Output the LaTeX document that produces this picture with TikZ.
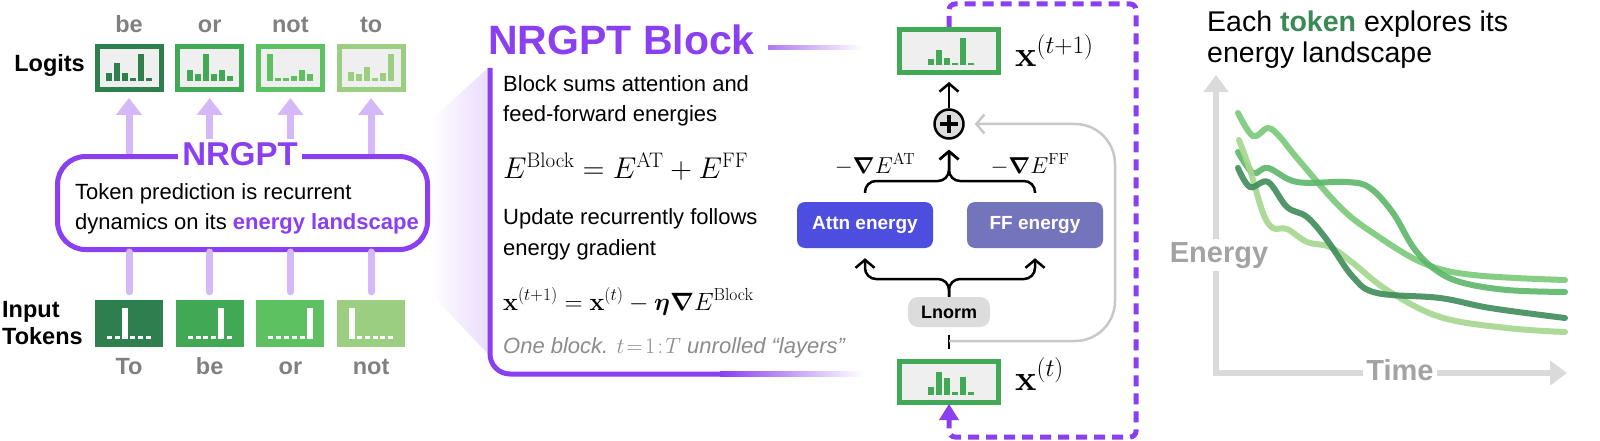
\RequirePackage{fix-cm}
\documentclass[tikz,border=0pt]{standalone}
\usepackage{amsmath,bm}
\usepackage[no-math]{fontspec}
\setmainfont{Liberation Sans}
\usetikzlibrary{arrows.meta,calc}
\definecolor{np}{HTML}{8A3FF0}
\definecolor{lp}{HTML}{D5B8F8}
\definecolor{g1}{HTML}{2F7F4E}
\definecolor{g2}{HTML}{41A956}
\definecolor{g3}{HTML}{5EC161}
\definecolor{g4}{HTML}{9BCE80}
\definecolor{boxgray}{HTML}{EFEFEF}
\definecolor{lblc}{HTML}{808080}
\definecolor{attnc}{HTML}{4D4DE0}
\definecolor{ffc}{HTML}{7474BD}
\definecolor{lng}{HTML}{DCDCDC}
\definecolor{axg}{HTML}{DADADA}
\definecolor{axt}{HTML}{A3A3A3}
\definecolor{tokg}{HTML}{3A8A55}
\definecolor{resg}{HTML}{C8C8C8}
\definecolor{itg}{HTML}{8C8C8C}
\definecolor{cA}{HTML}{79C979}
\definecolor{cB}{HTML}{5CB66A}
\definecolor{cC}{HTML}{3F8C5A}
\definecolor{cD}{HTML}{A6D78E}
\begin{document}
\begin{tikzpicture}[x=1pt,y=-1pt,
  lbl/.style={font=\fontsize{23.5}{28}\selectfont\bfseries, inner sep=0},
  tok/.style={lbl, text=lblc, anchor=base},
  body/.style={font=\fontsize{22}{26}\selectfont, inner sep=0, anchor=base west},
  logitbox/.style={draw, line width=5pt, fill=boxgray, minimum width=64pt, minimum height=43pt, inner sep=0},
  tokbox/.style={minimum width=68pt, minimum height=47pt, inner sep=0},
  uparrow/.style={lp, line width=7pt, -{Triangle[width=25pt,length=17pt]}, shorten >=6pt},
  conn/.style={lp, line width=7pt, line cap=round, shorten >=8pt},
  chev/.style={line width=2.5pt, -{Straight Barb[length=8pt,width=19pt]}},
  mathlbl/.style={inner sep=0, anchor=base west, font=\fontsize{36}{42}\selectfont},
  ebox/.style={rounded corners=8pt, minimum width=136pt, minimum height=46pt, text=white, font=\fontsize{19}{22}\selectfont\bfseries, inner sep=0},
  curve/.style={line width=6pt, line cap=round, opacity=0.9}
]
\useasboundingbox (0,0) rectangle (1600,441);
\fill[white] (0,0) rectangle (1600,441);

% ---------- left part ----------
\shade[left color=white, right color=np!18] (430,121) -- (488,68) -- (488,354) -- (430,293) -- cycle;
\node[draw=np, fill=white, line width=5pt, rounded corners=28pt, minimum width=370pt, minimum height=93pt] (nrg) at (242.5,203) {};

\foreach \n/\c/\x in {L1/g1/129, L2/g2/209.7, L3/g3/290.4, L4/g4/371.1}{
  \node[logitbox, draw=\c] (\n) at (\x,68) {};
}
\foreach \n/\c/\x in {I1/g1/129, I2/g2/209.7, I3/g3/290.4, I4/g4/371.1}{
  \node[tokbox, fill=\c] (\n) at (\x,323.5) {};
}
\foreach \n/\c/\hs in {L1/g1/{8,18,8,3,27,3}, L2/g2/{11,7,27,7,11,5}, L3/g3/{27,3,3,5,11,7}, L4/g4/{9,7,14,3,8,27}}{
  \foreach \h [count=\i] in \hs {
    \fill[\c] ($(\n.center)+({(\i-3.5)*8-3},13)$) rectangle ++(6,-\h);
  }
}
\foreach \n/\k in {I1/3,I2/5,I3/6,I4/1}{
  \foreach \i in {1,...,6}{
    \ifnum\i=\k\relax
      \fill[white] ($(\n.center)+({(\i-3.5)*7.8-3},15.5)$) rectangle ++(6,-31);
    \else
      \fill[white] ($(\n.center)+({(\i-3.5)*7.8-2.5},15.5)$) rectangle ++(5,-3);
    \fi
  }
}
\foreach \n in {L1,L2,L3,L4}{
  \draw[uparrow] (nrg.north -| \n) -- (\n.south);
}
\foreach \n in {I1,I2,I3,I4}{
  \draw[conn] (nrg.south -| \n) -- (\n.north);
}
\node[font=\fontsize{33}{38}\selectfont\bfseries, text=np, fill=white, inner sep=4pt] (nrgt) at (240,154.5) {NRGPT};
\node[body] (t1) at (75,199) {Token prediction is recurrent};
\node[body] (t2) at (75,229) {dynamics on its \textcolor{np}{\textbf{energy landscape}}};

\node[tok] (w1) at (129,33) {be};
\node[tok] (w2) at (209.7,33) {or};
\node[tok] (w3) at (290.4,33) {not};
\node[tok] (w4) at (371.1,33) {to};
\node[tok] (v1) at (129,374) {To};
\node[tok] (v2) at (209.7,374) {be};
\node[tok] (v3) at (290.4,374) {or};
\node[tok] (v4) at (371.1,374) {not};
\node[lbl, anchor=base east] (logl) at (85,72) {Logits};
\node[lbl, anchor=base west] (inl) at (2,317) {Input};
\node[lbl, anchor=base west] (tkl) at (2,344) {Tokens};

% ---------- middle text ----------
\node[inner sep=0, anchor=base west, font=\fontsize{41}{46}\selectfont\bfseries, text=np] (blt) at (488,55) {NRGPT Block};
\shade[left color=np!70, right color=white] (768,46) rectangle (863,50);
\draw[np, line width=5pt, rounded corners=20pt] (490,68) -- (490,374) -- (722,374);
\shade[left color=np, right color=white] (720,371.5) rectangle (863,376.5);
\node[body] (b1) at (503,92) {Block sums attention and};
\node[body] (b2) at (503,122) {feed-forward energies};
\node[inner sep=0, anchor=base west, font=\fontsize{30}{34}\selectfont] (eq1) at (503,178) {$E^{\mathrm{Block}}=E^{\mathrm{AT}}+E^{\mathrm{FF}}$};
\node[body] (b3) at (503,224) {Update recurrently follows};
\node[body] (b4) at (503,255) {energy gradient};
\node[inner sep=0, anchor=base west, font=\fontsize{25}{30}\selectfont] (eq2) at (503,310) {$\mathbf{x}^{(t+1)}=\mathbf{x}^{(t)}-\bm{\eta}\bm{\nabla}E^{\mathrm{Block}}$};
\node[body, text=itg] (b5) at (503,353) {\textit{One block.} ${t\!=\!1\!:\!T}$ \textit{unrolled “layers”}};

% ---------- middle diagram ----------
\node[draw=g2, line width=5pt, fill=boxgray, minimum width=99pt, minimum height=43pt, inner sep=0] (xt1) at (949,51) {};
\node[draw=g2, line width=5pt, fill=boxgray, minimum width=99pt, minimum height=41pt, inner sep=0] (xt) at (949,382) {};
\foreach \h [count=\i] in {6,15,7,2,27,2}{
  \fill[g2] ($(xt1.center)+({(\i-3.5)*8.1-1},14)$) rectangle ++(6,-\h);
}
\foreach \h [count=\i] in {8,23,17,3,18,3}{
  \fill[g2] ($(xt.center)+({(\i-3.5)*8.1-1},13)$) rectangle ++(6,-\h);
}
\node[mathlbl] (xl1) at (1015,67) {$\mathbf{x}^{(t+1)}$};
\node[mathlbl] (xl0) at (1015,390) {$\mathbf{x}^{(t)}$};

\node[circle, draw, line width=2.5pt, fill=lng, minimum size=29pt, inner sep=0] (plus) at (949,124) {};
\draw[line width=3.5pt] ($(plus.center)+(-9,0)$) -- ($(plus.center)+(9,0)$);
\draw[line width=3.5pt] ($(plus.center)+(0,-9)$) -- ($(plus.center)+(0,9)$);

\node[ebox, fill=attnc] (attn) at (865,225) {Attn energy};
\node[ebox, fill=ffc] (ff) at (1035,225) {FF energy};
\node[rounded corners=10pt, fill=lng, minimum width=82pt, minimum height=30pt, inner sep=0, font=\fontsize{18}{22}\selectfont\bfseries] (ln) at (949,312) {Lnorm};

\coordinate (ub) at (949,181);
\coordinate (lb) at (949,279);
\draw[chev, rounded corners=11pt, shorten >=10pt] ($(attn.north)+(0,-9)$) -- (attn.north |- ub) -- (ub) -- (plus.south);
\draw[chev, rounded corners=11pt, shorten >=10pt] ($(ff.north)+(0,-9)$) -- (ff.north |- ub) -- (ub) -- (plus.south);
\draw[chev, rounded corners=11pt, shorten >=10pt] (ln.north) -- (lb) -- (attn.south |- lb) -- (attn.south);
\draw[chev, rounded corners=11pt, shorten >=10pt] (ln.north) -- (lb) -- (ff.south |- lb) -- (ff.south);
\draw[chev] (plus.north) -- ($(xt1.south)+(0,7)$);

\node[inner sep=0, anchor=base, font=\fontsize{23}{27}\selectfont] (gat) at (875,173) {$-\bm{\nabla}E^{\mathrm{AT}}$};
\node[inner sep=0, anchor=base, font=\fontsize{23}{27}\selectfont] (gff) at (1030,173) {$-\bm{\nabla}E^{\mathrm{FF}}$};

\coordinate (rs) at (949,341);
\coordinate (rc1) at (1115,341);
\draw[line width=2.5pt] ($(xt.north)+(0,-10)$) -- ($(ln.south)+(0,8)$);
\draw[resg, chev, rounded corners=40pt, shorten >=10pt] (rs) -- (rc1) -- (rc1 |- plus.east) -- (plus.east);

\coordinate (lp1) at (1136,4);
\coordinate (lp2) at (1136,437);
\coordinate (trib) at (949,420);
\draw[np, line width=5pt, dash pattern=on 11pt off 7pt, rounded corners=6pt] (xt1.north) -- (xt1.north |- lp1) -- (lp1) -- (lp2) -- (xt.south |- lp2) -- (trib);
\fill[np] ($(xt.south)+(0,-1)$) -- ($(trib)+(-10,0)$) -- ($(trib)+(10,0)$) -- cycle;

% ---------- right plot ----------
\node[inner sep=0, anchor=base west, font=\fontsize{28.5}{34}\selectfont] (r1) at (1207,32) {Each \textcolor{tokg}{\textbf{token}} explores its};
\node[inner sep=0, anchor=base west, font=\fontsize{28.5}{34}\selectfont] (r2) at (1207,63) {energy landscape};
\coordinate (org) at (1216,373);
\coordinate (ytip) at (1216,75);
\coordinate (xtip) at (1567,373);
\draw[axg, line width=6pt, {Triangle[width=24pt,length=17pt]}-{Triangle[width=24pt,length=17pt]}] (ytip) -- (org) -- (xtip);
\node[fill=white, inner sep=3pt, anchor=base, font=\fontsize{29}{34}\selectfont\bfseries, text=axt] (en) at (1219,262) {Energy};
\node[fill=white, inner sep=3pt, anchor=base, font=\fontsize{29}{34}\selectfont\bfseries, text=axt] (tm) at (1400,380) {Time};

\draw[curve, cA] plot[smooth, tension=0.6] coordinates {(1238,113) (1253,136) (1268,128) (1280,137) (1297,158) (1340,207) (1373,233) (1423,263) (1473,275) (1565,280)};
\draw[curve, cB] plot[smooth, tension=0.6] coordinates {(1238,152) (1253,173) (1268,168) (1297,182) (1347,182) (1370,188) (1393,213) (1413,247) (1433,268) (1460,282) (1507,290) (1565,292)};
\draw[curve, cD] plot[smooth, tension=0.6] coordinates {(1239,140) (1250,170) (1263,213) (1273,228) (1287,229) (1307,242) (1330,247) (1353,263) (1387,290) (1440,317) (1507,328) (1565,332)};
\draw[curve, cC] plot[smooth, tension=0.6] coordinates {(1238,168) (1250,187) (1268,182) (1287,207) (1307,217) (1327,240) (1353,277) (1377,293) (1440,298) (1490,308) (1565,318)};
\end{tikzpicture}
\end{document}
